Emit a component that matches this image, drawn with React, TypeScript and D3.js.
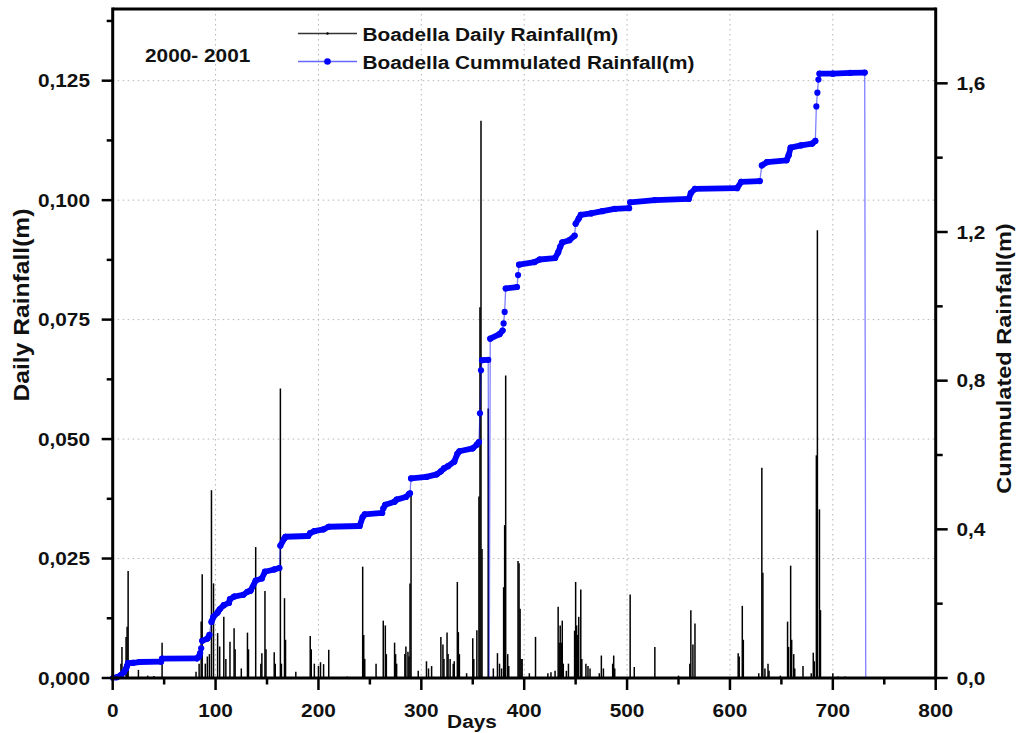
import React from "react";
import * as d3 from "d3";

// Boadella rain gauge, 2000-2001: daily rainfall (left axis) and cumulated rainfall (right axis)

const xTickValues = [0, 100, 200, 300, 400, 500, 600, 700, 800];
const xMinorTicks = [50, 150, 250, 350, 450, 550, 650, 750];
const leftTickValues = [0, 0.025, 0.05, 0.075, 0.1, 0.125];
const leftMinorTicks = [0.0125, 0.0375, 0.0625, 0.0875, 0.1125, 0.1375];
const rightTickValues = [0, 0.4, 0.8, 1.2, 1.6];
const rightMinorTicks = [0.2, 0.6, 1.0, 1.4];

// Daily rainfall (m) on rainy days
const rainDays = [
  8, 9, 13, 14, 15, 25, 34, 40, 48, 81, 84, 86, 87, 90, 92, 94, 96, 98, 102, 104,
  108, 110, 114, 118, 119, 125, 131, 132, 139, 144, 145, 148, 149, 157, 158, 163, 164, 167, 168, 178,
  192, 193, 196, 200, 202, 205, 210, 228, 243, 244, 245, 256, 263, 265, 266, 274, 275, 276, 284, 285,
  287, 288, 289, 290, 297, 305, 307, 310, 319, 321, 322, 325, 326, 328, 331, 332, 335, 336, 337, 344,
  350, 351, 354, 356, 357, 358, 359, 365, 370, 374, 376, 378, 380, 381, 382, 384, 385, 394, 395, 396,
  397, 398, 405, 411, 423, 426, 430, 433, 434, 435, 436, 437, 438, 441, 443, 449, 450, 451, 452, 453,
  455, 456, 460, 462, 464, 473, 475, 477, 486, 487, 488, 503, 507, 527, 550, 561, 562, 564, 566, 608,
  609, 612, 613, 628, 631, 632, 634, 637, 638, 649, 656, 657, 659, 660, 662, 663, 671, 679, 681, 682,
  684, 685, 687, 688, 700, 705, 712,
];
const rainValues = [
  0.003, 0.0065, 0.0086, 0.0107, 0.0224, 0.0017, 0.0005, 0.0004, 0.0074, 0.0013, 0.003, 0.0118, 0.0217, 0.003, 0.0045, 0.005, 0.0393, 0.0198, 0.0094, 0.0066,
  0.0128, 0.004, 0.0076, 0.0104, 0.006, 0.002, 0.0095, 0.006, 0.0274, 0.003, 0.0052, 0.0182, 0.006, 0.0054, 0.003, 0.0606, 0.003, 0.0167, 0.008, 0.0013,
  0.0088, 0.006, 0.003, 0.0025, 0.0033, 0.0029, 0.0059, 0.0003, 0.0233, 0.009, 0.004, 0.003, 0.012, 0.011, 0.005, 0.0074, 0.005, 0.003, 0.005, 0.0066,
  0.0055, 0.0045, 0.0198, 0.0385, 0.0015, 0.0035, 0.002, 0.0025, 0.0086, 0.007, 0.004, 0.0095, 0.005, 0.004, 0.003, 0.0035, 0.0201, 0.0096, 0.005, 0.001,
  0.0083, 0.004, 0.01, 0.038, 0.0776, 0.1166, 0.027, 0.0564, 0.002, 0.0052, 0.003, 0.002, 0.019, 0.032, 0.0633, 0.005, 0.0025, 0.0245, 0.024, 0.0145,
  0.004, 0.004, 0.001, 0.0086, 0.001, 0.0012, 0.0015, 0.0149, 0.0074, 0.011, 0.0074, 0.012, 0.003, 0.0015, 0.003, 0.0099, 0.0201, 0.011, 0.009, 0.0128,
  0.0185, 0.004, 0.003, 0.0025, 0.002, 0.001, 0.0047, 0.002, 0.003, 0.0047, 0.002, 0.0175, 0.0023, 0.0065, 0.0005, 0.003, 0.0142, 0.007, 0.0114, 0.0052,
  0.0045, 0.0151, 0.008, 0.001, 0.044, 0.022, 0.002, 0.003, 0.0015, 0.0005, 0.0118, 0.0065, 0.0235, 0.008, 0.005, 0.002, 0.0025, 0.001, 0.0053, 0.0035,
  0.0466, 0.0937, 0.0353, 0.0142, 0.001, 0.0003, 0.0003,
];

// Cumulated rainfall (m); the series logs 0 at the end of each record year
const cumDays = [
  0, 4, 8, 11, 13, 14, 15, 20, 26, 47, 48, 82, 84, 85, 86, 87, 92, 94, 96, 98,
  102, 104, 108, 113, 114, 118, 127, 131, 134, 139, 145, 148, 157, 162, 163, 167, 168, 190, 192, 196,
  205, 210, 240, 243, 245, 262, 263, 265, 274, 276, 285, 288, 289, 290, 305, 315, 319, 322, 326, 332,
  335, 337, 350, 354, 356, 357, 358, 359, 365, 366, 367, 376, 379, 380, 381, 382, 393, 394, 395, 410,
  415, 430, 433, 435, 437, 444, 449, 450, 453, 455, 465, 476, 488, 502, 503, 527, 560, 562, 566, 607,
  611, 629, 631, 636, 655, 657, 659, 669, 680, 683, 684, 685, 686, 687, 700, 717, 731, 732,
];
const cumValues = [
  0, 0.002, 0.008, 0.016, 0.025, 0.033, 0.04, 0.041, 0.043, 0.044, 0.052, 0.053, 0.058, 0.067, 0.08, 0.1, 0.106, 0.116, 0.151, 0.165,
  0.176, 0.185, 0.196, 0.202, 0.212, 0.219, 0.224, 0.232, 0.235, 0.262, 0.268, 0.286, 0.292, 0.296, 0.356, 0.376, 0.38, 0.382, 0.39, 0.395,
  0.4, 0.407, 0.409, 0.433, 0.44, 0.444, 0.456, 0.466, 0.474, 0.48, 0.487, 0.495, 0.497, 0.537, 0.541, 0.548, 0.556, 0.564, 0.57, 0.582,
  0.603, 0.61, 0.618, 0.628, 0.635, 0.712, 0.828, 0.855, 0.856, 0, 0.913, 0.925, 0.935, 0.954, 0.985, 1.048, 1.052, 1.084, 1.112, 1.119,
  1.126, 1.13, 1.145, 1.16, 1.172, 1.178, 1.19, 1.222, 1.236, 1.246, 1.25, 1.256, 1.262, 1.264, 1.28, 1.286, 1.289, 1.305, 1.316, 1.318,
  1.335, 1.337, 1.379, 1.388, 1.393, 1.406, 1.427, 1.433, 1.438, 1.445, 1.538, 1.575, 1.61, 1.626, 1.626, 1.628, 1.629, 0,
];

const W = 1019;
const H = 733;
const plot = { left: 112.7, right: 935.7, top: 9, bottom: 678 };
const FONT = "'Liberation Sans', Arial, Helvetica, sans-serif";
const BLUE = "#0000ff";
const STRETCH = 1.12; // the lettering is set wide

const comma = (f: (n: number) => string) => (v: number) => f(v).replace(".", ",");
const fmtLeft = comma(d3.format(".3f"));
const fmtRight = comma(d3.format(".1f"));

type LabelProps = {
  x: number;
  y: number;
  size?: number;
  anchor?: "start" | "middle" | "end";
  rotate?: number;
  dy?: string;
  children: React.ReactNode;
};

function Label({ x, y, size = 18.6, anchor = "start", rotate = 0, dy, children }: LabelProps) {
  return (
    <text
      transform={`translate(${x},${y}) rotate(${rotate}) scale(${STRETCH},1)`}
      textAnchor={anchor}
      dy={dy}
      style={{ fontFamily: FONT, fontWeight: 700, fontSize: size, fill: "#111" }}
    >
      {children}
    </text>
  );
}

export default function App() {
  const x = d3.scaleLinear().domain([0, 800]).range([plot.left, plot.right]);
  const yL = d3.scaleLinear().domain([0, 0.14]).range([plot.bottom, plot.top]);
  const yR = d3.scaleLinear().domain([0, 1.8]).range([plot.bottom, plot.top]);

  const cumPts: [number, number][] = cumDays.map((d, i) => [x(d), yR(cumValues[i])]);
  const thinLine = d3.line()(cumPts) || "";

  // Flat stretches are packed with daily markers, so they read as a solid band
  const bandSegs: string[] = [];
  for (let i = 0; i < cumPts.length - 1; i++) {
    const days = cumDays[i + 1] - cumDays[i];
    const dyPerDay = Math.abs(cumPts[i + 1][1] - cumPts[i][1]) / days;
    if (dyPerDay < 4) bandSegs.push(d3.line()([cumPts[i], cumPts[i + 1]]) || "");
  }

  const gridStyle = { stroke: "#b4b4b4", strokeWidth: 1, strokeDasharray: "1.5,3.5" };
  const axisW = 3;

  return (
    <svg width={W} height={H} style={{ position: "absolute", left: 0, top: 0, background: "#fff" }}>
      <rect x={0} y={0} width={W} height={H} fill="#fff" />

      {/* grid */}
      {xTickValues.filter((t) => t > 0 && t < 800).map((t) => (
        <line key={"gx" + t} x1={x(t)} x2={x(t)} y1={plot.top} y2={plot.bottom} style={gridStyle} />
      ))}
      {leftTickValues.filter((t) => t > 0).map((t) => (
        <line key={"gy" + t} x1={plot.left} x2={plot.right} y1={yL(t)} y2={yL(t)} style={gridStyle} />
      ))}

      {/* daily rainfall */}
      {rainDays.map((d, i) => (
        <line key={"r" + i} x1={x(d)} x2={x(d)} y1={yL(0)} y2={yL(rainValues[i])} stroke="#000" strokeWidth={1.5} />
      ))}

      {/* cumulated rainfall */}
      <path d={thinLine} fill="none" stroke="rgba(0,0,255,0.5)" strokeWidth={1.3} />
      {bandSegs.map((s, i) => (
        <path key={"b" + i} d={s} fill="none" stroke={BLUE} strokeWidth={5.8} strokeLinecap="round" />
      ))}
      {cumPts.map((p, i) =>
        cumValues[i] > 0 ? <circle key={"c" + i} cx={p[0]} cy={p[1]} r={3.1} fill={BLUE} /> : null
      )}

      {/* frame */}
      <line x1={plot.left} x2={plot.right} y1={plot.top} y2={plot.top} stroke="#000" strokeWidth={axisW} />
      <line x1={plot.left} x2={plot.right} y1={plot.bottom} y2={plot.bottom} stroke="#000" strokeWidth={axisW} />
      <line x1={plot.left} x2={plot.left} y1={plot.top - 1.5} y2={plot.bottom + 1.5} stroke="#000" strokeWidth={axisW} />
      <line x1={plot.right} x2={plot.right} y1={plot.top - 1.5} y2={plot.bottom + 1.5} stroke="#000" strokeWidth={axisW} />

      {/* bottom axis */}
      {xTickValues.map((t) => (
        <g key={"xt" + t}>
          <line x1={x(t)} x2={x(t)} y1={plot.bottom} y2={plot.bottom + 12} stroke="#000" strokeWidth={2.5} />
          <Label x={x(t)} y={716.5} anchor="middle">{t}</Label>
        </g>
      ))}
      {xMinorTicks.map((t) => (
        <line key={"xm" + t} x1={x(t)} x2={x(t)} y1={plot.bottom} y2={plot.bottom + 6.5} stroke="#000" strokeWidth={2.5} />
      ))}

      {/* left axis */}
      {leftTickValues.map((t) => (
        <g key={"lt" + t}>
          <line x1={plot.left - 11} x2={plot.left} y1={yL(t)} y2={yL(t)} stroke="#000" strokeWidth={2.5} />
          <Label x={90} y={yL(t)} dy="0.36em" anchor="end">{fmtLeft(t)}</Label>
        </g>
      ))}
      {leftMinorTicks.map((t) => (
        <line key={"lm" + t} x1={plot.left - 6} x2={plot.left} y1={yL(t)} y2={yL(t)} stroke="#000" strokeWidth={2.5} />
      ))}

      {/* right axis */}
      {rightTickValues.map((t) => (
        <g key={"rt" + t}>
          <line x1={plot.right} x2={plot.right + 12} y1={yR(t)} y2={yR(t)} stroke="#000" strokeWidth={2.5} />
          <Label x={956.5} y={yR(t)} dy="0.36em">{fmtRight(t)}</Label>
        </g>
      ))}
      {rightMinorTicks.map((t) => (
        <line key={"rm" + t} x1={plot.right} x2={plot.right + 7} y1={yR(t)} y2={yR(t)} stroke="#000" strokeWidth={2.5} />
      ))}

      {/* axis titles */}
      <Label x={472} y={728} anchor="middle">Days</Label>
      <Label x={29} y={305} size={22} rotate={-90} anchor="middle">Daily Rainfall(m)</Label>
      <Label x={1010.5} y={358.5} size={21} rotate={-90} anchor="middle">Cummulated Rainfall(m)</Label>

      {/* period label */}
      <Label x={145} y={61.5}>2000- 2001</Label>

      {/* legend */}
      <line x1={298} x2={357} y1={33.5} y2={33.5} stroke="#333" strokeWidth={1.4} />
      <circle cx={327.5} cy={33.5} r={1.2} fill="#000" />
      <Label x={362.5} y={40.5}>Boadella Daily Rainfall(m)</Label>
      <line x1={298} x2={357} y1={61.5} y2={61.5} stroke="rgba(0,0,255,0.6)" strokeWidth={1.3} />
      <circle cx={327.5} cy={61.5} r={3.3} fill={BLUE} />
      <Label x={362.5} y={68.5}>Boadella Cummulated Rainfall(m)</Label>
    </svg>
  );
}
